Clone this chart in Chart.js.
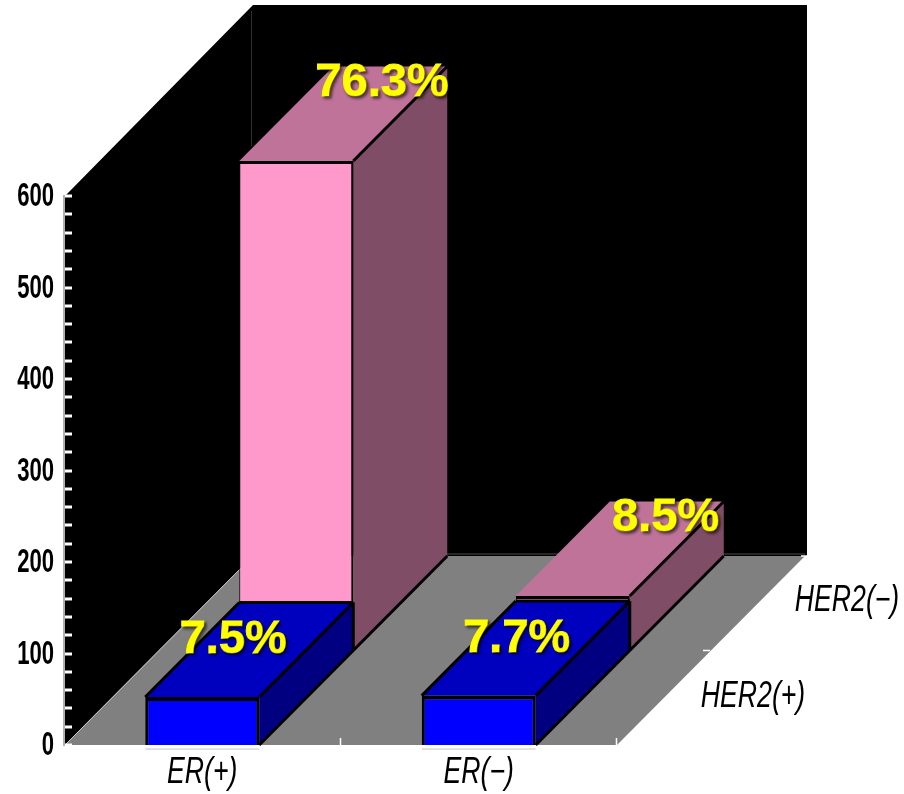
<!DOCTYPE html>
<html>
<head>
<meta charset="utf-8">
<title>ER / HER2 subgroups</title>
<script src="https://cdn.jsdelivr.net/npm/chart.js@4/dist/chart.umd.min.js"></script>
<style>
  html, body { margin: 0; padding: 0; background: #fff; }
  canvas { display: block; }
</style>
</head>
<body>
<canvas id="chart" width="904" height="794"></canvas>
<script>
// Patient counts per subgroup; the percentages printed on the boxes come from these.
const categories = ['ER(+)', 'ER(\u2212)'];
const rowLabels = ['HER2(+)', 'HER2(\u2212)'];
const her2Positive = [52.5, 54];
const her2Negative = [535, 59.5];
const axisMax = 600;
const axisStep = 20;
const labelledStep = 100;

const patientTotal = [...her2Positive, ...her2Negative].reduce((a, b) => a + b, 0);

// Oblique projection: one row of boxes recedes by this many pixels.
const ROW_DX = 94;
const ROW_DY = 94.5;
const SANS = '"Liberation Sans", Arial, sans-serif';

function polygon(ctx, pts, fill) {
  ctx.beginPath();
  pts.forEach((p, i) => (i ? ctx.lineTo(p[0], p[1]) : ctx.moveTo(p[0], p[1])));
  ctx.closePath();
  if (fill) { ctx.fillStyle = fill; ctx.fill(); }
}
function segment(ctx, a, b, color, width) {
  ctx.beginPath();
  ctx.moveTo(a[0], a[1]);
  ctx.lineTo(b[0], b[1]);
  ctx.strokeStyle = color;
  ctx.lineWidth = width;
  ctx.stroke();
}
// No condensed face is available, so narrow the regular one horizontally.
function condensedText(ctx, text, x, y, font, squeeze, align) {
  ctx.save();
  ctx.translate(x, y);
  ctx.scale(squeeze, 1);
  ctx.font = font;
  ctx.textAlign = align;
  ctx.textBaseline = 'middle';
  ctx.fillStyle = '#000';
  ctx.fillText(text, 0, 0);
  ctx.restore();
}

const scene3d = {
  id: 'scene3d',
  // Back wall, side wall, floor and the axis furniture.
  beforeDatasetsDraw(chart) {
    const { ctx, scales: { x, y } } = chart;
    const left = x.left + 1, right = x.right;
    const bottom = y.getPixelForValue(0), top = y.getPixelForValue(axisMax);
    const depthX = ROW_DX * 2, depthY = ROW_DY * 2;
    const wallTop = top - depthY - 2;
    const wallX = left + depthX;
    ctx.save();
    polygon(ctx, [[left, bottom], [left, top], [wallX, wallTop], [right + depthX + 2, wallTop],
                  [right + depthX + 2, bottom - depthY], [wallX, bottom - depthY]], '#000');
    polygon(ctx, [[left, bottom], [wallX, bottom - depthY], [right + depthX, bottom - depthY], [right, bottom]], '#808080');
    segment(ctx, [left, bottom], [wallX, bottom - depthY], '#c8c8c8', 1);
    segment(ctx, [wallX, bottom - depthY - 2], [right + depthX, bottom - depthY - 2], '#4a4a4a', 1);
    segment(ctx, [wallX - 1.5, wallTop + 6], [wallX - 1.5, top - 50], '#303030', 1);

    // Inward tick marks on the value axis.
    y.ticks.forEach((t, i) => {
      const py = Math.round(y.getPixelForTick(i));
      segment(ctx, [left, py], [left + 7, py], '#fff', 3);
    });
    // Category boundaries and the row divider on the floor.
    [0.5, 1.5].forEach(v => {
      const px = Math.round((x.getPixelForValue(v - 0.5) + x.getPixelForValue(v + 0.5)) / 2) - 0.5;
      segment(ctx, [px, bottom - 7], [px, bottom], '#fff', 1.5);
    });
    segment(ctx, [right + ROW_DX - 8, bottom - ROW_DY], [right + ROW_DX - 1, bottom - ROW_DY], '#fff', 1.5);
    segment(ctx, [right + depthX - 4, bottom - depthY], [right + depthX + 3, bottom - depthY], '#fff', 1.5);
    ctx.restore();
  },
  // Back-row boxes are shifted along the depth direction; side and top faces go under the front face.
  beforeDatasetDraw(chart, args) {
    const { ctx } = chart;
    const ds = chart.data.datasets[args.index];
    const shift = ds.row;
    ctx.save();
    ctx.translate(ROW_DX * shift, -ROW_DY * shift);
    ctx.lineJoin = 'miter';
    args.meta.data.forEach(bar => {
      const l = bar.x - bar.width / 2, r = bar.x + bar.width / 2;
      const t = bar.y, b = bar.base;
      const tl = [l, t], tr = [r, t];
      const bl = [l + ROW_DX, t - ROW_DY], br = [r + ROW_DX, t - ROW_DY];
      const floorFront = [r, b], floorBack = [r + ROW_DX, b - ROW_DY];
      polygon(ctx, [tl, tr, br, bl], ds.topColor);
      polygon(ctx, [tr, br, floorBack, floorFront], ds.sideColor);
      const w = ds.edgeWidth;
      segment(ctx, tr, br, '#000', w);
      segment(ctx, floorFront, floorBack, '#000', w);
      if (ds.outlineTop) {
        segment(ctx, tl, bl, '#000', w);
        segment(ctx, bl, br, '#000', w);
        segment(ctx, br, floorBack, '#000', w);
      }
    });
  },
  afterDatasetDraw(chart) {
    chart.ctx.restore();
  },
  // Axis names, percentage captions and the depth-axis names.
  afterDatasetsDraw(chart) {
    const { ctx, scales: { x, y } } = chart;
    const base = y.getPixelForValue(0);
    const valueFont = 'bold 34px ' + SANS;
    const nameFont = 'italic 36px ' + SANS;

    y.ticks.forEach((t, i) => {
      if (t.label) condensedText(ctx, t.label, y.right - 10, y.getPixelForTick(i) + 1, valueFont, 0.65, 'right');
    });
    x.ticks.forEach((t, i) => {
      condensedText(ctx, t.label, x.getPixelForTick(i), base + 28, nameFont, 0.74, 'center');
    });
    rowLabels.forEach((name, i) => {
      condensedText(ctx, name, x.right + 136 + ROW_DX * i, base - 48 - ROW_DY * i - (i ? 2 : 0), nameFont, 0.74, 'center');
    });

    ctx.save();
    ctx.textAlign = 'center';
    ctx.textBaseline = 'middle';
    chart.data.datasets.forEach((ds, di) => {
      chart.getDatasetMeta(di).data.forEach((bar, i) => {
        const px = bar.x + ROW_DX * ds.row + ds.captionDx + i * 7;
        const py = bar.y - ROW_DY * ds.row + ds.captionDy;
        const caption = (ds.data[i] / patientTotal * 100).toFixed(1) + '%';
        ctx.font = 'bold 47px ' + SANS;
        ctx.shadowColor = 'rgba(0,0,0,0.6)';
        ctx.shadowBlur = 3;
        ctx.shadowOffsetX = 2;
        ctx.shadowOffsetY = 2;
        ctx.fillStyle = '#ffff00';
        ctx.strokeStyle = '#ffff00';
        ctx.lineWidth = 1;
        ctx.strokeText(caption, px, py);
        ctx.fillText(caption, px, py);
      });
    });
    ctx.shadowColor = 'transparent';
    // Rule beneath each front box.
    chart.getDatasetMeta(0).data.forEach(bar => {
      segment(ctx, [bar.x - bar.width / 2, base + 4], [bar.x + bar.width / 2, base + 4], '#c4c4c4', 1);
    });
    ctx.restore();
  }
};

new Chart(document.getElementById('chart'), {
  type: 'bar',
  data: {
    labels: categories,
    datasets: [
      {
        label: rowLabels[0], data: her2Positive, row: 0,
        backgroundColor: '#0000ff', topColor: '#0000bf', sideColor: '#000080',
        borderColor: '#000', borderWidth: { top: 4, left: 3, right: 3, bottom: 0 }, edgeWidth: 3, outlineTop: true,
        captionDx: 31, captionDy: -57, clip: false
      },
      {
        label: rowLabels[1], data: her2Negative, row: 1,
        backgroundColor: '#ff99cc', topColor: '#bf7399', sideColor: '#804d66',
        borderColor: '#000', borderWidth: { top: 3, left: 1, right: 2, bottom: 0 }, edgeWidth: 3, outlineTop: false,
        captionDx: 86, captionDy: -78, clip: false
      }
    ]
  },
  options: {
    responsive: false,
    animation: false,
    devicePixelRatio: 1,
    layout: { padding: { left: 0, top: 196, right: 287, bottom: 0 } },
    plugins: { legend: { display: false }, tooltip: { enabled: false } },
    datasets: { bar: { grouped: false, barPercentage: 114 / 276.5, categoryPercentage: 1 } },
    scales: {
      x: {
        grid: { display: false, drawTicks: false },
        border: { display: false },
        afterFit(scale) { scale.height = 49; },
        ticks: { display: false, maxRotation: 0, autoSkip: false }
      },
      y: {
        min: 0,
        max: axisMax,
        grid: { display: false, drawTicks: false },
        border: { display: true, color: '#b0b0b0', width: 2 },
        afterFit(scale) { scale.width = 64; },
        ticks: {
          display: false, stepSize: axisStep, autoSkip: false,
          callback: v => (v % labelledStep === 0 ? String(v) : '')
        }
      }
    }
  },
  plugins: [scene3d]
});
</script>
</body>
</html>
